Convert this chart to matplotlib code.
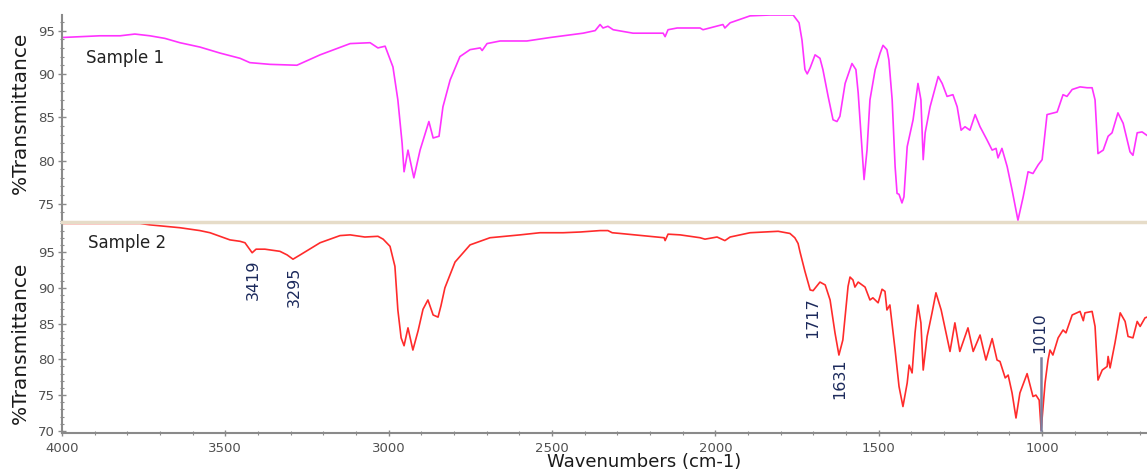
import matplotlib
matplotlib.use("Agg")
import matplotlib.pyplot as plt
from matplotlib.lines import Line2D
from matplotlib.ticker import MultipleLocator

# ---- data (wavenumber cm-1, %T) ----
s1_wn = [4000, 3945, 3884, 3822, 3777, 3731, 3685, 3639, 3578, 3516, 3455, 3425, 3363, 3281,
         3210, 3118, 3057, 3033, 3011, 2987, 2972, 2959, 2953, 2941, 2923, 2904, 2877, 2864,
         2846, 2834, 2812, 2782, 2751, 2720, 2714, 2699, 2659, 2577, 2506, 2405, 2368, 2353,
         2344, 2329, 2313, 2252, 2160, 2154, 2145, 2117, 2047, 2038, 1977, 1971, 1955, 1894,
         1833, 1762, 1744, 1735, 1726, 1719, 1710, 1695, 1680, 1671, 1655, 1640, 1628, 1619,
         1603, 1582, 1570, 1563, 1551, 1545, 1536, 1527, 1511, 1496, 1487, 1475, 1469, 1459,
         1450, 1444, 1438, 1429, 1423, 1413, 1395, 1380, 1371, 1364, 1358, 1343, 1318, 1306,
         1291, 1273, 1260, 1248, 1236, 1221, 1205, 1190, 1169, 1153, 1141, 1135, 1123, 1107,
         1092, 1074, 1058, 1043, 1028, 1012, 1000, 985, 954, 936, 924, 908, 884, 862, 847,
         838, 829, 813, 798, 786, 768, 752, 731, 722, 709, 694, 679]
s1_t = [94.2, 94.3, 94.4, 94.4, 94.6, 94.4, 94.1, 93.6, 93.1, 92.4, 91.8, 91.3, 91.1, 91.0,
        92.2, 93.5, 93.6, 93.0, 93.2, 90.8, 87.0, 82.0, 78.7, 81.2, 78.0, 81.2, 84.5, 82.6,
        82.8, 86.2, 89.3, 92.0, 92.8, 93.0, 92.7, 93.5, 93.8, 93.8, 94.2, 94.7, 95.0, 95.7,
        95.3, 95.5, 95.1, 94.7, 94.7, 94.3, 95.1, 95.3, 95.3, 95.1, 95.7, 95.3, 95.9, 96.7,
        96.8, 96.8, 95.9, 93.9, 90.5, 90.0, 90.7, 92.2, 91.8, 90.5, 87.4, 84.7, 84.5, 85.1,
        88.9, 91.2, 90.5, 87.8, 81.2, 77.8, 81.2, 87.0, 90.5, 92.4, 93.3, 92.8, 91.6, 87.0,
        79.3, 76.2, 76.1, 75.1, 75.8, 81.6, 84.7, 88.9, 87.0, 80.1, 83.2, 86.2, 89.7, 88.9,
        87.4, 87.6, 86.2, 83.5, 83.9, 83.5, 85.3, 83.9, 82.4, 81.2, 81.4, 80.3, 81.4, 79.3,
        76.6, 73.1, 75.8, 78.7, 78.5, 79.5, 80.1, 85.3, 85.6, 87.6, 87.4, 88.2, 88.5, 88.4, 88.4,
        87.0, 80.8, 81.2, 82.8, 83.2, 85.5, 84.3, 81.0, 80.6, 83.2, 83.3, 82.9]

s2_wn = [4000, 3884, 3761, 3731, 3685, 3639, 3578, 3547, 3486, 3455, 3440, 3418, 3406, 3379,
         3333, 3311, 3293, 3271, 3210, 3149, 3118, 3073, 3033, 3017, 2996, 2981, 2972, 2962,
         2953, 2941, 2926, 2910, 2895, 2880, 2864, 2849, 2840, 2828, 2797, 2751, 2690, 2598,
         2537, 2466, 2414, 2353, 2329, 2316, 2292, 2200, 2157, 2154, 2145, 2108, 2047, 2032,
         1995, 1971, 1955, 1894, 1808, 1772, 1757, 1747, 1741, 1726, 1710, 1701, 1680, 1664,
         1649, 1634, 1622, 1610, 1594, 1588, 1579, 1573, 1563, 1542, 1527, 1518, 1502, 1490,
         1481, 1475, 1466, 1450, 1438, 1426, 1413, 1407, 1398, 1389, 1380, 1371, 1364, 1352,
         1337, 1325, 1309, 1294, 1282, 1267, 1252, 1227, 1211, 1190, 1172, 1153, 1138, 1129,
         1113, 1104, 1092, 1080, 1068, 1046, 1028, 1019, 1009, 1003, 991, 982, 976, 967, 951,
         936, 927, 908, 884, 874, 869, 847, 838, 829, 816, 801, 798, 792, 777, 761, 746, 737,
         722, 709, 700, 685, 679]
s2_t = [99.0, 99.0, 99.0, 98.8, 98.6, 98.4, 98.0, 97.7, 96.7, 96.5, 96.3, 94.9, 95.4, 95.4,
        95.1, 94.6, 94.0, 94.6, 96.3, 97.3, 97.4, 97.1, 97.2, 96.8, 95.8, 93.0, 86.9, 83.0,
        81.9, 84.4, 81.3, 84.0, 87.0, 88.3, 86.2, 85.9, 87.5, 90.0, 93.6, 96.0, 97.0, 97.4,
        97.7, 97.7, 97.8, 98.0, 98.0, 97.7, 97.6, 97.2, 97.0, 96.6, 97.5, 97.4, 97.0, 96.8,
        97.1, 96.6, 97.1, 97.7, 97.9, 97.6, 97.0, 96.2, 95.0, 92.3, 89.7, 89.6, 90.8, 90.4,
        88.3, 83.7, 80.6, 82.7, 90.2, 91.5, 91.1, 90.1, 90.8, 90.1, 88.3, 88.6, 87.9, 89.8,
        89.5, 86.9, 87.6, 81.3, 76.2, 73.4, 76.7, 79.2, 78.1, 83.7, 87.6, 85.1, 78.5, 83.2,
        86.5, 89.3, 86.9, 83.7, 81.1, 85.1, 81.1, 84.4, 81.1, 83.4, 79.9, 82.9, 79.9, 79.7,
        77.4, 77.8, 75.3, 71.8, 75.3, 78.0, 74.8, 75.0, 74.3, 70.1, 76.7, 79.9, 81.3, 80.6, 83.0,
        84.1, 83.7, 86.2, 86.7, 85.4, 86.5, 86.7, 84.6, 77.1, 78.5, 79.0, 80.4, 78.8, 82.3, 86.5,
        85.3, 83.2, 83.0, 85.3, 84.6, 85.8, 85.9]

peak_labels = ["3419", "3295", "1717", "1631", "1010"]
sample_names = ["Sample 1", "Sample 2"]

# ---- figure ----
W, H = 1147, 476
fig = plt.figure(figsize=(W / 100, H / 100), dpi=100)
fig.patch.set_facecolor("white")

xl = 62
y_top, y_sep, y_bot = 15, 222, 433
ax1 = fig.add_axes([xl / W, 1 - y_sep / H, 1 - xl / W, (y_sep - y_top) / H])
ax2 = fig.add_axes([xl / W, 1 - y_bot / H, 1 - xl / W, (y_bot - y_sep) / H])

tick_family = ["Liberation Sans Narrow", "DejaVu Sans Condensed", "DejaVu Sans"]
spine_col = "#8a8a8a"
lab_col = "#505050"

for ax in (ax1, ax2):
    ax.set_xlim(4000, 679)
    for s in ("top", "right", "bottom"):
        ax.spines[s].set_visible(False)
    ax.spines["left"].set_color(spine_col)
    ax.spines["left"].set_linewidth(1.5)
    ax.yaxis.set_major_locator(MultipleLocator(5))
    ax.yaxis.set_minor_locator(MultipleLocator(1))
    ax.tick_params(axis="y", which="major", direction="inout", length=6, width=1,
                   color=spine_col, labelcolor=lab_col, pad=2,
                   labelsize=9.5, labelfontfamily=tick_family)
    ax.tick_params(axis="y", which="minor", direction="inout", length=3, width=0.8,
                   color=spine_col)

ax1.set_ylim(72.9, 96.8)
ax2.set_ylim(69.7, 99.2)

ax1.tick_params(axis="x", which="both", bottom=False, labelbottom=False)
ax2.spines["bottom"].set_visible(True)
ax2.spines["bottom"].set_color(spine_col)
ax2.spines["bottom"].set_linewidth(1.5)
ax2.xaxis.set_major_locator(MultipleLocator(500))
ax2.xaxis.set_minor_locator(MultipleLocator(100))
ax2.tick_params(axis="x", which="major", direction="inout", length=5, width=1,
                color=spine_col, labelcolor=lab_col, pad=4,
                labelsize=9.5, labelfontfamily=tick_family)
ax2.tick_params(axis="x", which="minor", direction="inout", length=3, width=0.8,
                color=spine_col)

ax1.plot(s1_wn, s1_t, color="#ff33ff", lw=1.2)
ax2.plot(s2_wn, s2_t, color="#ff2b2b", lw=1.2)

# separator band
fig.add_artist(Line2D([xl / W, 1], [1 - y_sep / H] * 2, color="#e6dcc8", lw=2.5))

# sample names
fig.text(86 / W, 1 - 58 / H, sample_names[0], fontsize=12, color="#222222",
         ha="left", va="center")
fig.text(88 / W, 1 - 243 / H, sample_names[1], fontsize=12, color="#222222",
         ha="left", va="center")

# axis labels
fig.text(20 / W, 1 - 113 / H, "%Transmittance", rotation=90, fontsize=14.5,
         color="#1a1a1a", ha="center", va="center")
fig.text(20 / W, 1 - 343 / H, "%Transmittance", rotation=90, fontsize=14.5,
         color="#1a1a1a", ha="center", va="center")
fig.text(644 / W, 1 - 462 / H, "Wavenumbers (cm-1)", fontsize=13,
         color="#1a1a1a", ha="center", va="center")

# peak annotations
ann_col = "#1c2a5c"
ann_pos = [(3415, 93.9, "top"), (3290, 92.9, "top"), (1701, 88.7, "top"),
           (1619, 80.2, "top"), (1006, 80.9, "bottom")]
for (x, y, va), txt in zip(ann_pos, peak_labels):
    ax2.text(x, y, txt, rotation=90, fontsize=11.5, color=ann_col, ha="center", va=va)
ax2.plot([1004, 1004], [80.2, 70.1], color="#7b80a0", lw=1.8)

fig.savefig("out.png", dpi=100, facecolor="white")
